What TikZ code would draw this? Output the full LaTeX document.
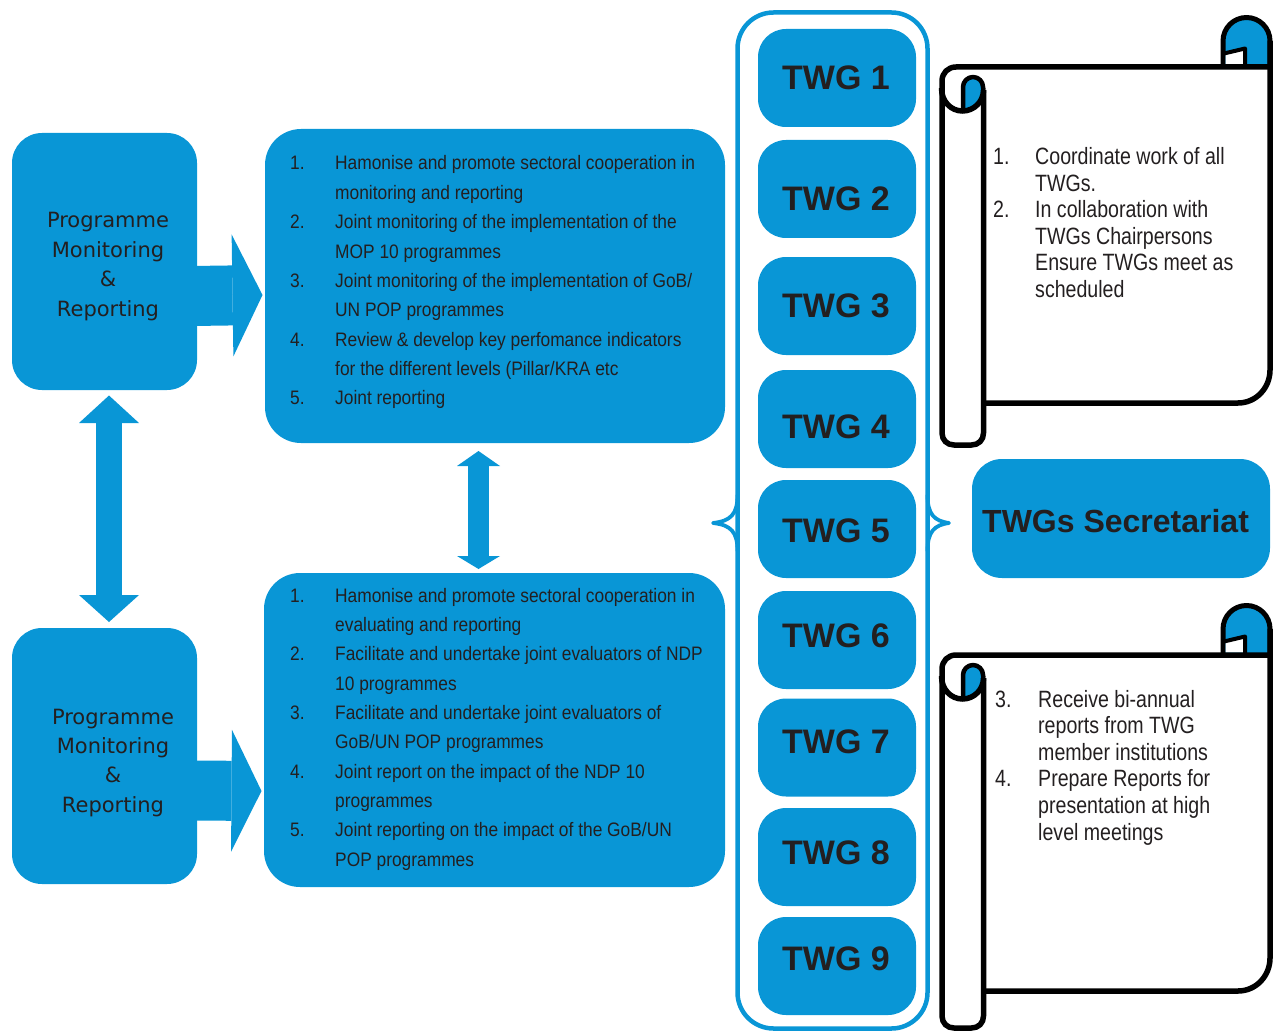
\documentclass[tikz,border=0pt]{standalone}
\usepackage{fontspec}
\setmainfont{Liberation Sans}
\newfontfamily\boxfont[FakeStretch=0.89]{Liberation Sans}
\newfontfamily\scrfont[FakeStretch=0.83]{Liberation Sans}
\newfontfamily\dvfont{DejaVu Sans}
\usetikzlibrary{arrows.meta}
\definecolor{tblue}{RGB}{9,150,214}
\definecolor{ink}{RGB}{35,31,32}
\newcommand{\Ln}[4]{\node[lt] (#1) at (#2,#3) {#4};}
\newcommand{\Sn}[4]{\node[st] (#1) at (#2,#3) {#4};}
\newcommand{\Pn}[4]{\node[pt] (#1) at (#2,#3) {#4};}
\newcommand{\drawscroll}[2]{%
\begin{scope}[shift={(0,#1)}]
 % tab
 \draw[fill=tblue, line width=5pt, line join=round] (1223,67) -- (1223,41) .. controls (1223,28) and (1233.5,17.5) .. (1246.5,17.5) .. controls (1259.5,17.5) and (1270,28) .. (1270,41) -- (1270,67);
 \fill[white] (1225.5,53) -- (1245,48.5) -- (1245,64.5) -- (1225.5,64.5) -- cycle;
 \draw[line width=4pt, line join=round] (1224,53.5) -- (1245,48.5) -- (1245,66);
 % sheet
 \draw[line width=5.5pt, line join=round] (1270,41) -- (1270,370) .. controls (1270,388) and (1256,403) .. (1238,403) -- (983,403);
 \draw[line width=5.5pt, line join=round] (1270,67) -- (956,67) .. controls (948,67) and (942,73) .. (942,81) -- (942,#2-12) .. controls (942,#2-5) and (947,#2) .. (954,#2) -- (971.5,#2) .. controls (978.5,#2) and (983.5,#2-5) .. (983.5,#2-12) -- (983.5,90);
 % curl
 \fill[tblue] (963,111) -- (963,87) .. controls (963,81.5) and (967.5,77) .. (973,77) .. controls (978.5,77) and (983,81.5) .. (983,87) -- (983.5,90) .. controls (983.5,101.6) and (974,111) .. (963,111) -- cycle;
 \draw[line width=4.5pt, line join=round] (963,111) -- (963,87) .. controls (963,81.5) and (967.5,77) .. (973,77) .. controls (978.5,77) and (983,81.5) .. (983,87) -- (983.5,90);
 \draw[line width=5.5pt] (941.5,88) .. controls (941.5,101.6) and (951,111) .. (962.5,111) .. controls (974,111) and (983.5,101.6) .. (983.5,90);
\end{scope}}
\begin{document}
\begin{tikzpicture}[x=1pt,y=-1pt,
  pmbox/.style={fill=tblue, draw=none, rounded corners=30pt, minimum width=185pt, inner sep=0pt, outer sep=0pt},
  listbox/.style={fill=tblue, draw=none, rounded corners=36pt, inner sep=0pt, outer sep=0pt},
  twgbox/.style={fill=tblue, draw=none, rounded corners=28pt, minimum width=158pt, minimum height=98pt, inner sep=0pt, outer sep=0pt},
  twgtext/.style={anchor=base, inner sep=0pt, text=ink, font=\bfseries\fontsize{34}{40}\selectfont},
  lt/.style={anchor=base west, inner sep=0pt, text=ink, font=\boxfont\fontsize{19.5}{24}\selectfont},
  st/.style={anchor=base west, inner sep=0pt, text=ink, font=\scrfont\fontsize{23.6}{28}\selectfont},
  pt/.style={anchor=base, inner sep=0pt, text=ink, font=\dvfont\fontsize{21}{26}\selectfont},
  bracestyle/.style={draw=tblue, line width=3.8pt, line join=round, line cap=round},
]
\useasboundingbox (0,0) rectangle (1273,1032);

% left boxes
\node[pmbox, minimum height=257pt] (pm1) at (104.5,261.5) {};
\node[pmbox, minimum height=256pt] (pm2) at (104.5,756) {};
\Pn{p1a}{108}{228}{Programme}
\Pn{p1b}{108}{257.3}{Monitoring}
\Pn{p1c}{108}{286.6}{\&}
\Pn{p1d}{108}{316}{Reporting}
\Pn{p2a}{113}{724}{Programme}
\Pn{p2b}{113}{753.3}{Monitoring}
\Pn{p2c}{113}{782.6}{\&}
\Pn{p2d}{113}{812}{Reporting}

% list boxes
\node[listbox, minimum width=460pt, minimum height=314pt] (list1) at (495,286) {};
\node[listbox, minimum width=461pt, minimum height=314pt] (list2) at (494.5,730) {};

% block arrows
\draw[line width=60pt, draw=tblue, -{Triangle[width=122pt,length=30pt,line width=0pt]}]
  ([xshift=-4pt,yshift=-34.5pt]pm1.east) -- ([xshift=-2.5pt,yshift=-9pt]list1.west);
\draw[line width=60pt, draw=tblue, -{Triangle[width=122pt,length=30pt,line width=0pt]}]
  ([xshift=-4pt,yshift=-34.5pt]pm2.east) -- ([xshift=-2.5pt,yshift=-61pt]list2.west);
\draw[line width=26pt, draw=tblue, {Triangle[width=60pt,length=27.5pt,line width=0pt]}-{Triangle[width=60pt,length=27pt,line width=0pt]}]
  ([xshift=4.5pt,yshift=-5.5pt]pm1.south) -- ([xshift=4.5pt,yshift=6pt]pm2.north);
\draw[line width=20.6pt, draw=tblue, {Triangle[width=43pt,length=15pt,line width=0pt]}-{Triangle[width=43pt,length=13pt,line width=0pt]}]
  ([xshift=-16.5pt,yshift=-8pt]list1.south) -- ([xshift=-16pt,yshift=4pt]list2.north);

% list 1 text
\Ln{a0n}{290}{170}{1.}     \Ln{a0}{335}{170}{Hamonise and promote sectoral cooperation in}
                           \Ln{a1}{335}{199.35}{monitoring and reporting}
\Ln{a2n}{290}{228.7}{2.}   \Ln{a2}{335}{228.7}{Joint monitoring of the implementation of the}
                           \Ln{a3}{335}{258.05}{MOP 10 programmes}
\Ln{a4n}{290}{287.4}{3.}   \Ln{a4}{335}{287.4}{Joint monitoring of the implementation of GoB/}
                           \Ln{a5}{335}{316.75}{UN POP programmes}
\Ln{a6n}{290}{346.1}{4.}   \Ln{a6}{335}{346.1}{Review \& develop key perfomance indicators}
                           \Ln{a7}{335}{375.45}{for the different levels (Pillar/KRA etc}
\Ln{a8n}{290}{404.8}{5.}   \Ln{a8}{335}{404.8}{Joint reporting}

% list 2 text
\Ln{b0n}{290}{602}{1.}     \Ln{b0}{335}{602}{Hamonise and promote sectoral cooperation in}
                           \Ln{b1}{335}{631.35}{evaluating and reporting}
\Ln{b2n}{290}{660.7}{2.}   \Ln{b2}{335}{660.7}{Facilitate and undertake joint evaluators of NDP}
                           \Ln{b3}{335}{690.05}{10 programmes}
\Ln{b4n}{290}{719.4}{3.}   \Ln{b4}{335}{719.4}{Facilitate and undertake joint evaluators of}
                           \Ln{b5}{335}{748.75}{GoB/UN POP programmes}
\Ln{b6n}{290}{778.1}{4.}   \Ln{b6}{335}{778.1}{Joint report on the impact of the NDP 10}
                           \Ln{b7}{335}{807.45}{programmes}
\Ln{b8n}{290}{836.8}{5.}   \Ln{b8}{335}{836.8}{Joint reporting on the impact of the GoB/UN}
                           \Ln{b9}{335}{866.15}{POP programmes}

% TWG frame and braces
\node[draw=tblue, line width=4.5pt, rounded corners=36pt, minimum width=190pt, minimum height=1016pt, inner sep=0pt, outer sep=0pt] (frame) at (832.5,520.5) {};
\draw[bracestyle] (737.5,495) .. controls (737.5,514) and (731,521) .. (713,523) .. controls (731,525) and (737.5,532) .. (737.5,551);
\draw[bracestyle] (927.5,495) .. controls (927.5,514) and (934,521) .. (949,523) .. controls (934,525) and (927.5,532) .. (927.5,551);

% TWG boxes
\node[twgbox] (t1) at (837,78) {};
\node[twgbox] (t2) at (837,189) {};
\node[twgbox] (t3) at (837,306) {};
\node[twgbox] (t4) at (837,419) {};
\node[twgbox] (t5) at (837,529) {};
\node[twgbox] (t6) at (837,640) {};
\node[twgbox] (t7) at (837,747.5) {};
\node[twgbox] (t8) at (837,857) {};
\node[twgbox] (t9) at (837,966) {};
\node[twgtext] (t1t) at (836,90) {TWG 1};
\node[twgtext] (t2t) at (836,211) {TWG 2};
\node[twgtext] (t3t) at (836,317) {TWG 3};
\node[twgtext] (t4t) at (836,438) {TWG 4};
\node[twgtext] (t5t) at (836,542) {TWG 5};
\node[twgtext] (t6t) at (836,647.5) {TWG 6};
\node[twgtext] (t7t) at (836,753) {TWG 7};
\node[twgtext] (t8t) at (836,864) {TWG 8};
\node[twgtext] (t9t) at (836,970) {TWG 9};

% secretariat
\node[fill=tblue, rounded corners=30pt, minimum width=298pt, minimum height=119pt, inner sep=0pt] (sec) at (1121,518.5) {};
\node[anchor=base west, inner sep=0pt, text=ink, font=\bfseries\fontsize{32}{38}\selectfont] (sect) at (982,532) {TWGs Secretariat};

% scrolls
\drawscroll{0}{445}
\drawscroll{588}{440}

\Sn{c0n}{993}{165}{1.}   \Sn{c0}{1035}{165}{Coordinate work of all}
                         \Sn{c1}{1035}{191.4}{TWGs.}
\Sn{c2n}{993}{217.8}{2.} \Sn{c2}{1035}{217.8}{In collaboration with}
                         \Sn{c3}{1035}{244.2}{TWGs Chairpersons}
                         \Sn{c4}{1035}{270.6}{Ensure TWGs meet as}
                         \Sn{c5}{1035}{297}{scheduled}

\Sn{d0n}{995}{707}{3.}   \Sn{d0}{1038}{707}{Receive bi-annual}
                         \Sn{d1}{1038}{733.6}{reports from TWG}
                         \Sn{d2}{1038}{760.2}{member institutions}
\Sn{d3n}{995}{786.8}{4.} \Sn{d3}{1038}{786.8}{Prepare Reports for}
                         \Sn{d4}{1038}{813.4}{presentation at high}
                         \Sn{d5}{1038}{840}{level meetings}
\end{tikzpicture}
\end{document}
